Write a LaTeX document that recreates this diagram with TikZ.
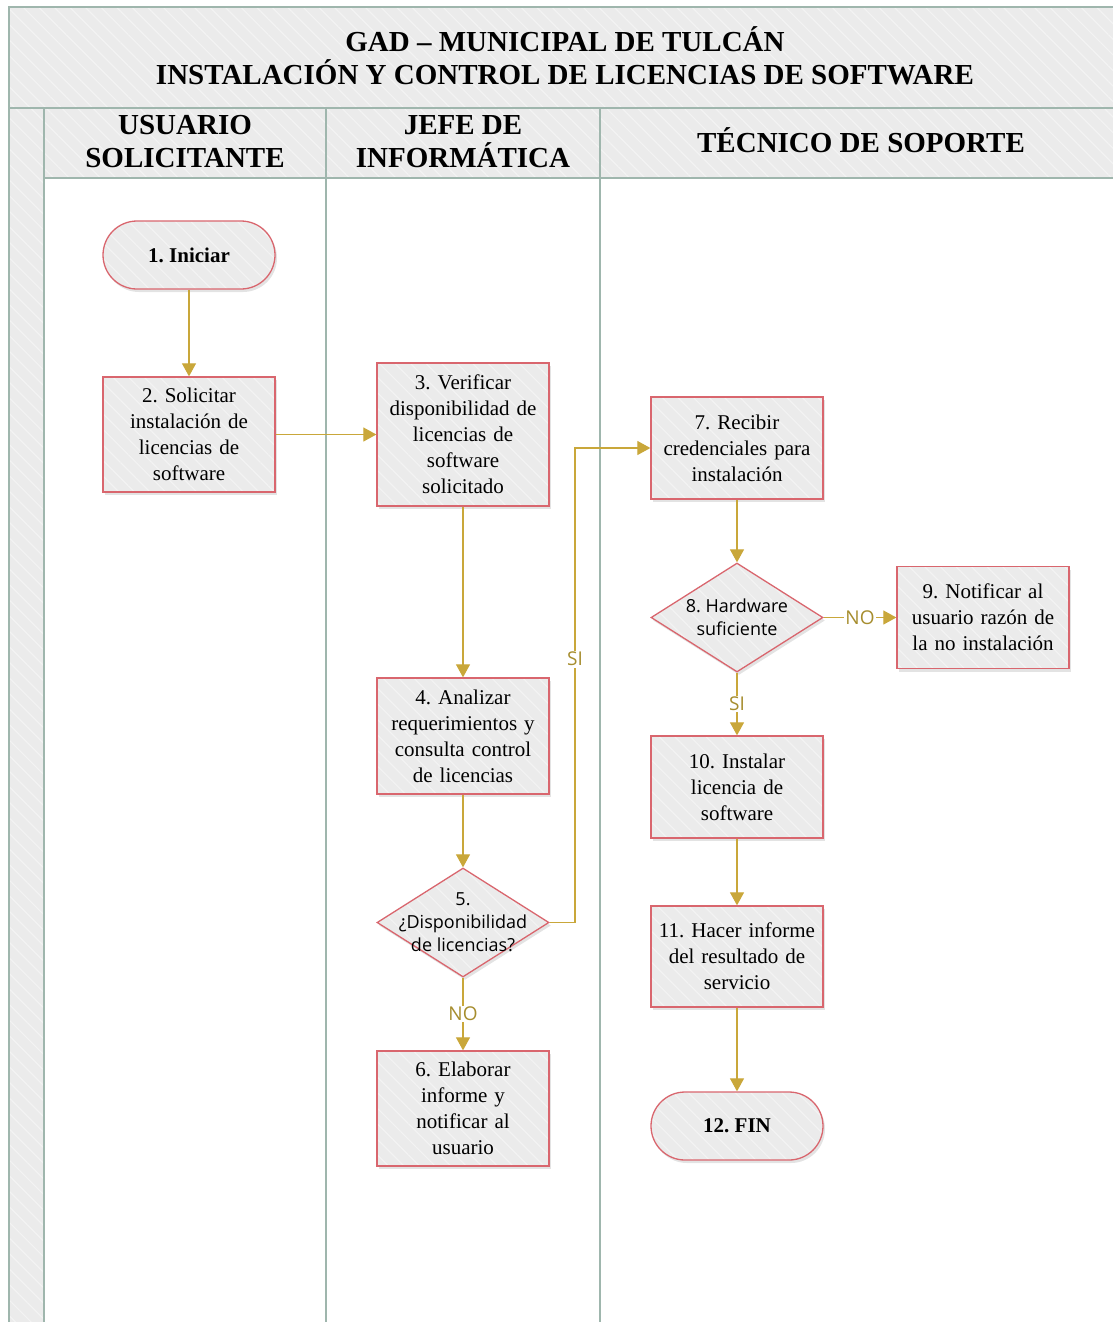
\documentclass[tikz,border=0pt]{standalone}
\usepackage{fontspec}
\setmainfont{Liberation Serif}
\newfontfamily\uisans{Open Sans}
\usetikzlibrary{arrows.meta,shapes.geometric,shadows,patterns.meta}
\frenchspacing

\definecolor{lanegreen}{HTML}{9FB6AD}
\definecolor{bandgray}{HTML}{EBEBEB}
\definecolor{stripe}{HTML}{F3F3F3}
\definecolor{nodered}{HTML}{D9666E}
\definecolor{flowgold}{HTML}{C9A73A}
\definecolor{labelgold}{HTML}{A68D2E}

\newcommand\bodyfs{\fontsize{21}{26}\selectfont}
\newcommand\headfs{\fontsize{29}{33}\selectfont\bfseries}
\newcommand\uifs{\uisans\fontsize{18}{23}\selectfont}
\newcommand\lblfs{\uisans\fontsize{19}{23}\selectfont}

\tikzset{
  stripes/.style={pattern={Lines[angle=-45,distance=11pt,line width=1.2pt]}, pattern color=stripe},
  band/.style={preaction={fill=bandgray}, stripes},
  lane/.style={draw=lanegreen, line width=2pt},
  shade/.style={drop shadow={shadow xshift=2pt, shadow yshift=-3pt, opacity=.22}},
  shapebase/.style={shade, preaction={fill=bandgray}, preaction={stripes},
    draw=nodered, line width=1.3pt},
  box/.style={shapebase, rectangle, minimum width=172pt, text width=168pt,
    inner sep=0pt, align=center, font=\bodyfs},
  term/.style={shapebase, rectangle, rounded corners=34pt, minimum width=172pt,
    minimum height=68pt, inner sep=0pt, align=center, font=\bodyfs\bfseries},
  dia/.style={shapebase, diamond, minimum width=172pt, minimum height=109pt,
    inner sep=0pt},
  diatext/.style={align=center, inner sep=0pt, font=\uifs},
  flow/.style={draw=flowgold, line width=1.2pt, -{Triangle[length=13pt,width=14pt]}},
  lbl/.style={fill=white, inner sep=1.5pt, text=labelgold, font=\lblfs},
}

\begin{document}
\begin{tikzpicture}[x=1pt,y=-1pt]
\useasboundingbox (0,0) rectangle (1112,1322);

% pool header, left strip and lane headers
\path[band] (9,7) rectangle (1125,108);
\path[band] (9,108) rectangle (44,1335);
\path[band] (44,108) rectangle (1125,178);

\draw[lane] (9,1335) -- (9,7) -- (1125,7);
\draw[lane] (9,108) -- (1125,108);
\draw[lane] (44,178) -- (1125,178);
\draw[lane] (44,108) -- (44,1335);
\draw[lane] (326,108) -- (326,1335);
\draw[lane] (600,108) -- (600,1335);

\node[align=center, font=\headfs] (title) at (565,55.5)
  {GAD – MUNICIPAL DE TULCÁN\\INSTALACIÓN Y CONTROL DE LICENCIAS DE SOFTWARE};
\node[align=center, font=\headfs] (laneA) at (185,141.5) {USUARIO\\SOLICITANTE};
\node[align=center, font=\headfs] (laneB) at (463,141.5) {JEFE DE\\INFORMÁTICA};
\node[align=center, font=\headfs] (laneC) at (861,140) {TÉCNICO DE SOPORTE};

% process steps
\node[term] (n1) at (189,255) {1. Iniciar};
\node[box, minimum height=115pt] (n2) at (189,434.5)
  {2. Solicitar\\instalación de\\licencias de\\software};
\node[box, minimum height=143pt] (n3) at (463,434.5)
  {3. Verificar\\disponibilidad de\\licencias de\\software\\solicitado};
\node[box, minimum height=116pt] (n4) at (463,736)
  {4. Analizar\\requerimientos y\\consulta control\\de licencias};
\node[dia] (d5) at (463,922.5) {};
\node[diatext] (d5t) at (463,922.5) {5.\\¿Disponibilidad\\de licencias?};
\node[box, minimum height=115pt] (n6) at (463,1108.5)
  {6. Elaborar\\informe y\\notificar al\\usuario};
\node[box, minimum height=102pt] (n7) at (737,448)
  {7. Recibir\\credenciales para\\instalación};
\node[dia] (d8) at (737,617.5) {};
\node[diatext] (d8t) at (737,617.5) {8. Hardware\\suficiente};
\node[box, minimum height=102pt] (n9) at (983,617.5)
  {9. Notificar al\\usuario razón de\\la no instalación};
\node[box, minimum height=102pt] (n10) at (737,787)
  {10. Instalar\\licencia de\\software};
\node[box, minimum height=101pt] (n11) at (737,956.5)
  {11. Hacer informe\\del resultado de\\servicio};
\node[term] (n12) at (737,1126) {12. FIN};

% connectors
\coordinate (k1) at (575,922.5);
\coordinate (k2) at (575,448);
\draw[flow] (n1) -- (n2);
\draw[flow] (n2) -- (n3);
\draw[flow] (n3) -- (n4);
\draw[flow] (n4) -- (d5);
\draw[flow] (d5) -- node[lbl] {NO} (n6);
\draw[flow] (d5.east) -- (k1) -- node[lbl, pos=.555] {SI} (k2) -- (n7.west);
\draw[flow] (n7) -- (d8);
\draw[flow] (d8) -- node[lbl] {NO} (n9);
\draw[flow] (d8) -- node[lbl] {SI} (n10);
\draw[flow] (n10) -- (n11);
\draw[flow] (n11) -- (n12);
\end{tikzpicture}
\end{document}
